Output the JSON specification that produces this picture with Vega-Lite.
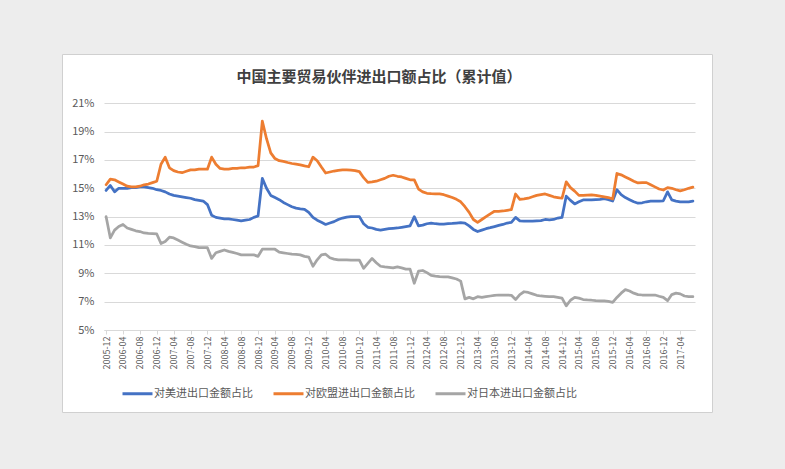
{
"$schema": "https://vega.github.io/schema/vega-lite/v6.json",
"width": 650,
"height": 358,
"autosize": {"type": "none"},
"padding": {"left": 62, "top": 54, "right": 73, "bottom": 57},
"background": "#EDEDED",
"config": {
  "view": {"fill": "#FFFFFF", "stroke": "#D0D0D0", "strokeWidth": 1},
  "font": "Noto Sans CJK SC"
},
"title": {"text": "中国主要贸易伙伴进出口额占比（累计值）", "anchor": "middle", "frame": "group", "offset": -43, "baseline": "alphabetic", "fontSize": 15, "fontWeight": "bold", "color": "#404040", "font": "Noto Sans CJK SC", "dx": -8},
"data": {"values": [
{"month":"2005-12","us":14.85,"eu":15.25,"jp":13.0},
{"month":"2006-01","us":15.2,"eu":15.65,"jp":11.5},
{"month":"2006-02","us":14.75,"eu":15.6,"jp":12.05},
{"month":"2006-03","us":15.0,"eu":15.45,"jp":12.3},
{"month":"2006-04","us":15.0,"eu":15.3,"jp":12.45},
{"month":"2006-05","us":15.0,"eu":15.15,"jp":12.2},
{"month":"2006-06","us":15.05,"eu":15.1,"jp":12.1},
{"month":"2006-07","us":15.05,"eu":15.1,"jp":12.0},
{"month":"2006-08","us":15.1,"eu":15.15,"jp":11.95},
{"month":"2006-09","us":15.1,"eu":15.25,"jp":11.85},
{"month":"2006-10","us":15.05,"eu":15.3,"jp":11.82},
{"month":"2006-11","us":15.0,"eu":15.4,"jp":11.8},
{"month":"2006-12","us":14.9,"eu":15.5,"jp":11.78},
{"month":"2007-01","us":14.85,"eu":16.7,"jp":11.1},
{"month":"2007-02","us":14.75,"eu":17.2,"jp":11.25},
{"month":"2007-03","us":14.6,"eu":16.45,"jp":11.55},
{"month":"2007-04","us":14.5,"eu":16.25,"jp":11.5},
{"month":"2007-05","us":14.45,"eu":16.15,"jp":11.35},
{"month":"2007-06","us":14.4,"eu":16.1,"jp":11.2},
{"month":"2007-07","us":14.35,"eu":16.2,"jp":11.05},
{"month":"2007-08","us":14.3,"eu":16.3,"jp":10.93},
{"month":"2007-09","us":14.2,"eu":16.3,"jp":10.88},
{"month":"2007-10","us":14.15,"eu":16.35,"jp":10.82},
{"month":"2007-11","us":14.1,"eu":16.35,"jp":10.81},
{"month":"2007-12","us":13.85,"eu":16.35,"jp":10.81},
{"month":"2008-01","us":13.1,"eu":17.2,"jp":10.05},
{"month":"2008-02","us":12.95,"eu":16.7,"jp":10.45},
{"month":"2008-03","us":12.9,"eu":16.4,"jp":10.55},
{"month":"2008-04","us":12.85,"eu":16.35,"jp":10.65},
{"month":"2008-05","us":12.85,"eu":16.35,"jp":10.55},
{"month":"2008-06","us":12.8,"eu":16.4,"jp":10.48},
{"month":"2008-07","us":12.75,"eu":16.4,"jp":10.4},
{"month":"2008-08","us":12.7,"eu":16.45,"jp":10.3},
{"month":"2008-09","us":12.75,"eu":16.45,"jp":10.3},
{"month":"2008-10","us":12.8,"eu":16.5,"jp":10.3},
{"month":"2008-11","us":12.95,"eu":16.5,"jp":10.3},
{"month":"2008-12","us":13.05,"eu":16.6,"jp":10.2},
{"month":"2009-01","us":15.7,"eu":19.75,"jp":10.7},
{"month":"2009-02","us":15.0,"eu":18.5,"jp":10.7},
{"month":"2009-03","us":14.5,"eu":17.5,"jp":10.7},
{"month":"2009-04","us":14.35,"eu":17.1,"jp":10.7},
{"month":"2009-05","us":14.2,"eu":16.95,"jp":10.5},
{"month":"2009-06","us":14.0,"eu":16.9,"jp":10.45},
{"month":"2009-07","us":13.85,"eu":16.82,"jp":10.4},
{"month":"2009-08","us":13.7,"eu":16.75,"jp":10.35},
{"month":"2009-09","us":13.6,"eu":16.7,"jp":10.33},
{"month":"2009-10","us":13.55,"eu":16.65,"jp":10.3},
{"month":"2009-11","us":13.52,"eu":16.58,"jp":10.2},
{"month":"2009-12","us":13.3,"eu":16.52,"jp":10.15},
{"month":"2010-01","us":12.95,"eu":17.2,"jp":9.5},
{"month":"2010-02","us":12.75,"eu":16.95,"jp":9.95},
{"month":"2010-03","us":12.6,"eu":16.5,"jp":10.3},
{"month":"2010-04","us":12.45,"eu":16.08,"jp":10.35},
{"month":"2010-05","us":12.55,"eu":16.15,"jp":10.1},
{"month":"2010-06","us":12.65,"eu":16.22,"jp":10.0},
{"month":"2010-07","us":12.8,"eu":16.27,"jp":9.95},
{"month":"2010-08","us":12.9,"eu":16.3,"jp":9.95},
{"month":"2010-09","us":12.97,"eu":16.3,"jp":9.95},
{"month":"2010-10","us":13.0,"eu":16.28,"jp":9.93},
{"month":"2010-11","us":13.0,"eu":16.25,"jp":9.93},
{"month":"2010-12","us":13.0,"eu":16.18,"jp":9.93},
{"month":"2011-01","us":12.5,"eu":15.75,"jp":9.35},
{"month":"2011-02","us":12.25,"eu":15.42,"jp":9.7},
{"month":"2011-03","us":12.2,"eu":15.45,"jp":10.05},
{"month":"2011-04","us":12.1,"eu":15.5,"jp":9.75},
{"month":"2011-05","us":12.05,"eu":15.6,"jp":9.5},
{"month":"2011-06","us":12.1,"eu":15.7,"jp":9.45},
{"month":"2011-07","us":12.15,"eu":15.85,"jp":9.42},
{"month":"2011-08","us":12.18,"eu":15.92,"jp":9.38},
{"month":"2011-09","us":12.2,"eu":15.85,"jp":9.45},
{"month":"2011-10","us":12.25,"eu":15.8,"jp":9.38},
{"month":"2011-11","us":12.3,"eu":15.7,"jp":9.3},
{"month":"2011-12","us":12.35,"eu":15.6,"jp":9.3},
{"month":"2012-01","us":13.0,"eu":15.6,"jp":8.3},
{"month":"2012-02","us":12.35,"eu":14.95,"jp":9.15},
{"month":"2012-03","us":12.4,"eu":14.75,"jp":9.2},
{"month":"2012-04","us":12.5,"eu":14.65,"jp":9.05},
{"month":"2012-05","us":12.55,"eu":14.62,"jp":8.85},
{"month":"2012-06","us":12.5,"eu":14.6,"jp":8.8},
{"month":"2012-07","us":12.47,"eu":14.6,"jp":8.77},
{"month":"2012-08","us":12.48,"eu":14.55,"jp":8.75},
{"month":"2012-09","us":12.5,"eu":14.45,"jp":8.75},
{"month":"2012-10","us":12.52,"eu":14.35,"jp":8.68},
{"month":"2012-11","us":12.55,"eu":14.22,"jp":8.6},
{"month":"2012-12","us":12.58,"eu":14.05,"jp":8.45},
{"month":"2013-01","us":12.55,"eu":13.7,"jp":7.2},
{"month":"2013-02","us":12.35,"eu":13.3,"jp":7.3},
{"month":"2013-03","us":12.1,"eu":12.8,"jp":7.2},
{"month":"2013-04","us":11.95,"eu":12.6,"jp":7.35},
{"month":"2013-05","us":12.05,"eu":12.8,"jp":7.3},
{"month":"2013-06","us":12.15,"eu":13.0,"jp":7.35},
{"month":"2013-07","us":12.22,"eu":13.2,"jp":7.4},
{"month":"2013-08","us":12.3,"eu":13.38,"jp":7.45},
{"month":"2013-09","us":12.38,"eu":13.38,"jp":7.47},
{"month":"2013-10","us":12.45,"eu":13.4,"jp":7.47},
{"month":"2013-11","us":12.55,"eu":13.45,"jp":7.47},
{"month":"2013-12","us":12.6,"eu":13.5,"jp":7.45},
{"month":"2014-01","us":12.95,"eu":14.6,"jp":7.15},
{"month":"2014-02","us":12.7,"eu":14.22,"jp":7.5},
{"month":"2014-03","us":12.68,"eu":14.25,"jp":7.7},
{"month":"2014-04","us":12.68,"eu":14.3,"jp":7.65},
{"month":"2014-05","us":12.68,"eu":14.4,"jp":7.55},
{"month":"2014-06","us":12.7,"eu":14.5,"jp":7.45},
{"month":"2014-07","us":12.72,"eu":14.55,"jp":7.4},
{"month":"2014-08","us":12.8,"eu":14.6,"jp":7.38},
{"month":"2014-09","us":12.78,"eu":14.5,"jp":7.36},
{"month":"2014-10","us":12.8,"eu":14.4,"jp":7.35},
{"month":"2014-11","us":12.9,"eu":14.35,"jp":7.3},
{"month":"2014-12","us":12.95,"eu":14.3,"jp":7.25},
{"month":"2015-01","us":14.45,"eu":15.45,"jp":6.7},
{"month":"2015-02","us":14.15,"eu":15.05,"jp":7.1},
{"month":"2015-03","us":13.9,"eu":14.8,"jp":7.3},
{"month":"2015-04","us":14.05,"eu":14.5,"jp":7.25},
{"month":"2015-05","us":14.18,"eu":14.5,"jp":7.15},
{"month":"2015-06","us":14.18,"eu":14.52,"jp":7.12},
{"month":"2015-07","us":14.18,"eu":14.53,"jp":7.1},
{"month":"2015-08","us":14.2,"eu":14.5,"jp":7.07},
{"month":"2015-09","us":14.22,"eu":14.45,"jp":7.05},
{"month":"2015-10","us":14.27,"eu":14.4,"jp":7.05},
{"month":"2015-11","us":14.2,"eu":14.35,"jp":7.02},
{"month":"2015-12","us":14.1,"eu":14.25,"jp":6.95},
{"month":"2016-01","us":14.9,"eu":16.05,"jp":7.3},
{"month":"2016-02","us":14.55,"eu":15.95,"jp":7.6},
{"month":"2016-03","us":14.35,"eu":15.8,"jp":7.85},
{"month":"2016-04","us":14.2,"eu":15.65,"jp":7.75},
{"month":"2016-05","us":14.05,"eu":15.5,"jp":7.6},
{"month":"2016-06","us":13.95,"eu":15.38,"jp":7.5},
{"month":"2016-07","us":13.98,"eu":15.4,"jp":7.47},
{"month":"2016-08","us":14.05,"eu":15.4,"jp":7.47},
{"month":"2016-09","us":14.1,"eu":15.25,"jp":7.47},
{"month":"2016-10","us":14.1,"eu":15.1,"jp":7.47},
{"month":"2016-11","us":14.1,"eu":14.95,"jp":7.38},
{"month":"2016-12","us":14.12,"eu":14.88,"jp":7.3},
{"month":"2017-01","us":14.75,"eu":15.05,"jp":7.07},
{"month":"2017-02","us":14.18,"eu":15.0,"jp":7.5},
{"month":"2017-03","us":14.1,"eu":14.9,"jp":7.6},
{"month":"2017-04","us":14.05,"eu":14.82,"jp":7.55},
{"month":"2017-05","us":14.05,"eu":14.9,"jp":7.4},
{"month":"2017-06","us":14.05,"eu":15.0,"jp":7.35},
{"month":"2017-07","us":14.1,"eu":15.08,"jp":7.35}
]},
"transform": [{"fold": ["us", "eu", "jp"], "as": ["series", "value"]}],
"mark": {"type": "line", "strokeWidth": 2.75, "strokeJoin": "round", "strokeCap": "round"},
"encoding": {
  "x": {"field": "month", "type": "ordinal",
    "scale": {"type": "point", "range": [42, 633], "padding": 0.5},
    "axis": {"title": null, "values": ["2005-12","2006-04","2006-08","2006-12","2007-04","2007-08","2007-12","2008-04","2008-08","2008-12","2009-04","2009-08","2009-12","2010-04","2010-08","2010-12","2011-04","2011-08","2011-12","2012-04","2012-08","2012-12","2013-04","2013-08","2013-12","2014-04","2014-08","2014-12","2015-04","2015-08","2015-12","2016-04","2016-08","2016-12","2017-04"],
      "labelAngle": -90, "offset": -82, "grid": false, "domainColor": "#D9D9D9", "tickColor": "#D9D9D9", "tickSize": 4, "labelFontSize": 9, "labelColor": "#595959", "labelPadding": 2, "labelFont": "Noto Sans CJK SC"}},
  "y": {"field": "value", "type": "quantitative",
    "scale": {"domain": [5, 21], "range": [276, 49.3], "nice": false, "zero": false},
    "axis": {"title": null, "values": [5,7,9,11,13,15,17,19,21], "labelExpr": "datum.value + '%'", "offset": -42, "domain": false, "ticks": false, "grid": true, "gridColor": "#D9D9D9", "gridWidth": 1, "labelFontSize": 11, "labelColor": "#595959", "labelPadding": 10, "labelFont": "Noto Sans CJK SC"}},
  "color": {"field": "series", "type": "nominal",
    "scale": {"domain": ["us", "eu", "jp"], "range": ["#4472C4", "#ED7D31", "#A5A5A5"]},
    "legend": {"title": null, "orient": "none", "legendX": 59, "legendY": 323, "direction": "horizontal", "symbolType": "stroke", "symbolSize": 900, "symbolStrokeWidth": 3, "labelFontSize": 11, "labelColor": "#595959", "columnPadding": 14, "labelOffset": 0, "labelFont": "Noto Sans CJK SC",
      "labelExpr": "datum.label == 'us' ? '对美进出口金额占比' : datum.label == 'eu' ? '对欧盟进出口金额占比' : '对日本进出口金额占比'"}}
}
}
